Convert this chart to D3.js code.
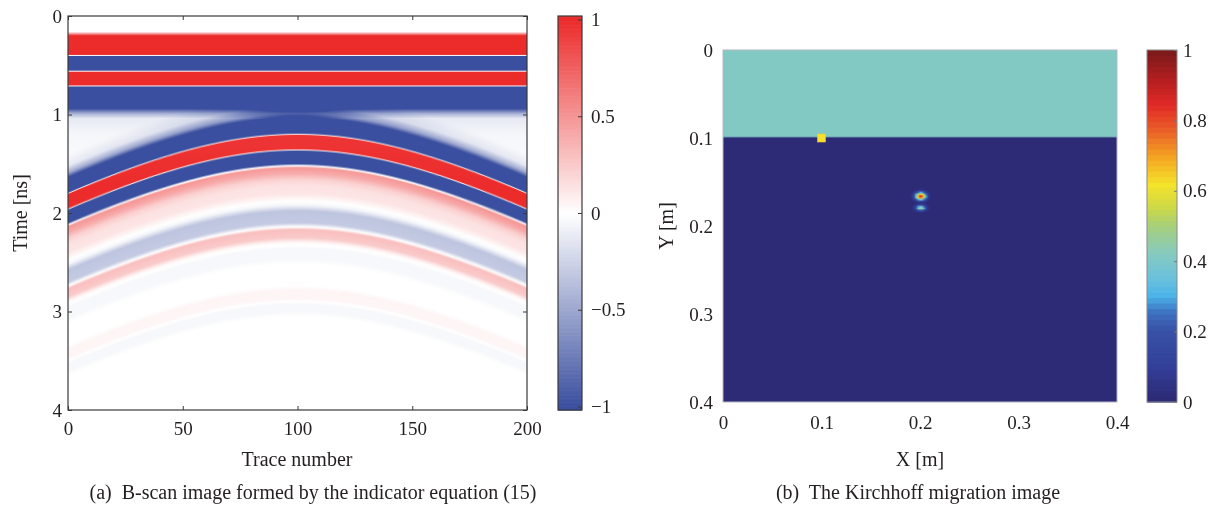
<!DOCTYPE html>
<html>
<head>
<meta charset="utf-8">
<script src="https://cdn.jsdelivr.net/npm/d3@7/dist/d3.min.js"></script>
<style>
  html, body { margin: 0; padding: 0; background: #fff; }
  #wrap { position: relative; width: 1220px; height: 512px; }
  canvas, svg { position: absolute; left: 0; top: 0; }
  text { font-family: "Liberation Serif", "DejaVu Serif", serif; fill: #231f20; }
</style>
</head>
<body>
<div id="wrap">
  <canvas id="cv" width="1220" height="512"></canvas>
  <svg id="sv" width="1220" height="512"></svg>
</div>
<script>
// ---------------- (a) B-scan data ----------------
const traceTicks = [0, 50, 100, 150, 200];
const timeTicks = [0, 1, 2, 3, 4];
const bscanBarTicks = [-1, -0.5, 0, 0.5, 1];
const bscanBarLabels = ["\u22121", "\u22120.5", "0", "0.5", "1"];

// Direct (air/ground) wave, identical on every trace: [time ns, amplitude]
const directWave = [
  [0.00, 0], [0.16, 0], [0.20, 1], [0.39, 1], [0.40, 0], [0.41, -1],
  [0.55, -1], [0.56, 0], [0.57, 1], [0.70, 1], [0.71, 0], [0.72, -1],
  [0.94, -1], [0.99, -0.45], [1.04, -0.12], [1.20, -0.05], [1.50, -0.02], [1.80, 0]
];

// Target reflection as seen on the apex trace: [time ns, amplitude]
const reflectionWave = [
  [0.80, 0], [0.92, -0.1], [0.99, -0.45], [1.04, -1],
  [1.19, -1], [1.20, 0], [1.21, 1], [1.35, 1], [1.36, 0], [1.37, -1],
  [1.50, -1], [1.52, 0], [1.54, 0.5], [1.60, 0.4], [1.66, 0.22], [1.72, 0.14],
  [1.80, 0.12], [1.86, 0.03], [1.92, -0.05], [1.98, -0.33], [2.10, -0.3], [2.14, 0],
  [2.17, 0.3], [2.25, 0.25], [2.30, 0.03], [2.36, -0.04], [2.46, -0.04], [2.52, 0],
  [2.74, 0], [2.79, 0.05], [2.87, 0.04], [2.90, 0], [2.93, -0.04], [3.00, -0.04], [3.05, 0]
];

// Hyperbolic moveout: arrival of the main lobe at the apex trace and at the outer traces
const apexTrace = 100;
const apexTime = 1.21;
const edgeTrace = 0;
const edgeTime = 1.81;

const traces = d3.range(0, 201);
const times = d3.range(0, 401).map(i => i / 100);

// ---------------- (b) Kirchhoff migration data ----------------
const posTicks = [0, 0.1, 0.2, 0.3, 0.4];
const posLabels = ["0", "0.1", "0.2", "0.3", "0.4"];
const migBarTicks = [0, 0.2, 0.4, 0.6, 0.8, 1];
const migBarLabels = ["0", "0.2", "0.4", "0.6", "0.8", "1"];

const gridX = d3.range(0, 201).map(i => i * 0.002);
const gridY = d3.range(0, 201).map(i => i * 0.002);

// Layer above the interface and its image level
const layerTop = [0, 0.1];
const layerValue = 0.42;
// Focused target energy: centre, peak level, spread (m)
const spotX = [0.2007, 0.2007];
const spotY = [0.1662, 0.1795];
const spotPeak = [0.9, 0.5];
const spotSx = [0.0037, 0.0034];
const spotSy = [0.0029, 0.0021];
// Antenna position
const antenna = [0.1, 0.1];

// Colour maps
const migStops = [0, 0.1, 0.2, 0.25, 0.3, 0.35, 0.42, 0.5, 0.55, 0.62, 0.7, 0.78, 0.85, 0.92, 1];
const migColors = ["#2d2a76", "#33409a", "#3752a6", "#3d70c0", "#4cb4e8", "#6ac1dc", "#85cac1",
  "#a6cf7c", "#cbd84a", "#f4e32a", "#f4a422", "#ea5c28", "#e12a26", "#b51f22", "#7e1a1a"];
const bscanColors = ["#3a4f9f", "#ffffff", "#ec2b2b"];

// ---------------- layout ----------------
const PA = { left: 68, right: 527, top: 16, bottom: 410 };
const CA = { left: 558, right: 582, top: 16, bottom: 410 };
const PB = { left: 723, right: 1117, top: 50, bottom: 402 };
const CB = { left: 1147, right: 1177, top: 50, bottom: 402 };

const ctx = document.getElementById("cv").getContext("2d");
const svg = d3.select("#sv");

// ---------------- (a) image ----------------
const xA = d3.scaleLinear().domain([0, 200]).range([PA.left, PA.right]);
const yA = d3.scaleLinear().domain([0, 4]).range([PA.top, PA.bottom]);
const directAmp = d3.scaleLinear().domain(directWave.map(d => d[0])).range(directWave.map(d => d[1])).clamp(true);
const reflAmp = d3.scaleLinear().domain(reflectionWave.map(d => d[0])).range(reflectionWave.map(d => d[1])).clamp(true);
const colorA = d3.scaleLinear().domain([-1, 0, 1]).range(bscanColors).clamp(true);

const slope2 = (edgeTime * edgeTime - apexTime * apexTime) / Math.pow(edgeTrace - apexTrace, 2);
const moveout = tr => Math.sqrt(apexTime * apexTime + slope2 * (tr - apexTrace) * (tr - apexTrace)) - apexTime;

function drawGrid(nx, ny, valueAt, colorOf, rect, smooth) {
  const off = document.createElement("canvas");
  off.width = nx; off.height = ny;
  const octx = off.getContext("2d");
  const img = octx.createImageData(nx, ny);
  for (let j = 0; j < ny; j++) {
    for (let i = 0; i < nx; i++) {
      const c = d3.rgb(colorOf(valueAt(i, j)));
      const k = (j * nx + i) * 4;
      img.data[k] = c.r; img.data[k + 1] = c.g; img.data[k + 2] = c.b; img.data[k + 3] = 255;
    }
  }
  octx.putImageData(img, 0, 0);
  ctx.save();
  ctx.beginPath();
  ctx.rect(rect.clip[0], rect.clip[1], rect.clip[2], rect.clip[3]);
  ctx.clip();
  ctx.imageSmoothingEnabled = smooth;
  ctx.drawImage(off, rect.x, rect.y, rect.w, rect.h);
  ctx.restore();
}

drawGrid(traces.length, times.length,
  (i, j) => {
    const tr = traces[i], t = times[j];
    const v = directAmp(t) + reflAmp(t - moveout(tr));
    return Math.max(-1, Math.min(1, v));
  },
  colorA,
  {
    x: xA(-0.5), y: yA(-0.005), w: xA(200.5) - xA(-0.5), h: yA(4.005) - yA(-0.005),
    clip: [PA.left, PA.top, PA.right - PA.left, PA.bottom - PA.top]
  }, true);

// colour bar (a)
const cA = d3.scaleLinear().domain([-1.018, 1.018]).range([CA.bottom, CA.top]);
const nA = 300;
for (let k = 0; k < nA; k++) {
  const v0 = -1.018 + 2.036 * k / nA, v1 = -1.018 + 2.036 * (k + 1) / nA;
  ctx.fillStyle = colorA((v0 + v1) / 2);
  ctx.fillRect(CA.left, cA(v1), CA.right - CA.left, cA(v0) - cA(v1) + 0.6);
}

// ---------------- (b) image ----------------
const xB = d3.scaleLinear().domain([0, 0.4]).range([PB.left, PB.right]);
const yB = d3.scaleLinear().domain([0, 0.4]).range([PB.top, PB.bottom]);
const migColor = d3.scaleLinear().domain(migStops).range(migColors).clamp(true);
const migQuant = v => migColor(Math.round(Math.max(0, Math.min(1, v)) * 63) / 63);

drawGrid(gridX.length, gridY.length,
  (i, j) => {
    const X = gridX[i], Y = gridY[j];
    let v = (Y >= layerTop[0] && Y < layerTop[1]) ? layerValue : 0;
    for (let s = 0; s < spotX.length; s++) {
      const dx = (X - spotX[s]) / spotSx[s], dy = (Y - spotY[s]) / spotSy[s];
      v += spotPeak[s] * Math.exp(-0.5 * (dx * dx + dy * dy));
    }
    return v;
  },
  migQuant,
  {
    x: xB(-0.001), y: yB(-0.001), w: xB(0.401) - xB(-0.001), h: yB(0.401) - yB(-0.001),
    clip: [PB.left, PB.top, PB.right - PB.left, PB.bottom - PB.top]
  }, true);

// colour bar (b), 64 discrete levels
const cB = d3.scaleLinear().domain([0, 1]).range([CB.bottom, CB.top]);
for (let k = 0; k < 64; k++) {
  const v0 = k / 64, v1 = (k + 1) / 64;
  ctx.fillStyle = migColor(k / 63);
  ctx.fillRect(CB.left, cB(v1), CB.right - CB.left, cB(v0) - cB(v1) + 0.6);
}

// ---------------- axes ----------------
function styleAxis(g, size) {
  g.attr("font-family", '"Liberation Serif", "DejaVu Serif", serif')
   .attr("font-size", size).attr("color", "#231f20");
  g.select(".domain").remove();
  g.selectAll(".tick line").attr("stroke", "#3a3a3a");
}

// (a) frame with inward ticks on all sides
const gA = svg.append("g");
gA.append("g").attr("transform", `translate(0,${PA.bottom})`)
  .call(d3.axisBottom(xA).tickValues(traceTicks).tickSize(-4).tickPadding(12).tickFormat(d3.format("d")))
  .call(g => styleAxis(g, 19));
gA.append("g").attr("transform", `translate(0,${PA.top})`)
  .call(d3.axisTop(xA).tickValues(traceTicks).tickSize(-4).tickFormat(""))
  .call(g => styleAxis(g, 19));
gA.append("g").attr("transform", `translate(${PA.left},0)`)
  .call(d3.axisLeft(yA).tickValues(timeTicks).tickSize(-4).tickPadding(6).tickFormat(d3.format("d")))
  .call(g => styleAxis(g, 19));
gA.append("g").attr("transform", `translate(${PA.right},0)`)
  .call(d3.axisRight(yA).tickValues(timeTicks).tickSize(-4).tickFormat(""))
  .call(g => styleAxis(g, 19));
gA.append("rect").attr("x", PA.left).attr("y", PA.top)
  .attr("width", PA.right - PA.left).attr("height", PA.bottom - PA.top)
  .attr("fill", "none").attr("stroke", "#3a3a3a").attr("stroke-width", 1.2);

gA.append("g").attr("transform", `translate(${CA.right},0)`)
  .call(d3.axisRight(cA).tickValues(bscanBarTicks).tickSize(-4).tickPadding(9)
    .tickFormat((d, i) => bscanBarLabels[i]))
  .call(g => styleAxis(g, 19));
gA.append("rect").attr("x", CA.left).attr("y", CA.top)
  .attr("width", CA.right - CA.left).attr("height", CA.bottom - CA.top)
  .attr("fill", "none").attr("stroke", "#3a3a3a").attr("stroke-width", 1.2);

gA.append("text").attr("transform", "translate(27,213) rotate(-90)")
  .attr("text-anchor", "middle").attr("font-size", 20).text("Time [ns]");
gA.append("text").attr("x", 297).attr("y", 466)
  .attr("text-anchor", "middle").attr("font-size", 20).text("Trace number");
gA.append("text").attr("x", 313).attr("y", 499)
  .attr("text-anchor", "middle").attr("font-size", 20)
  .attr("xml:space", "preserve").text("(a)  B-scan image formed by the indicator equation (15)");

// (b) axes without tick marks
const gB = svg.append("g");
gB.append("g").attr("transform", `translate(0,${PB.bottom})`)
  .call(d3.axisBottom(xB).tickValues(posTicks).tickSize(0).tickPadding(14)
    .tickFormat((d, i) => posLabels[i]))
  .call(g => styleAxis(g, 19));
gB.append("g").attr("transform", `translate(${PB.left},0)`)
  .call(d3.axisLeft(yB).tickValues(posTicks).tickSize(0).tickPadding(10)
    .tickFormat((d, i) => posLabels[i]))
  .call(g => styleAxis(g, 19));
gB.append("rect").attr("x", PB.left).attr("y", PB.top)
  .attr("width", PB.right - PB.left).attr("height", PB.bottom - PB.top)
  .attr("fill", "none").attr("stroke", "#b4b8c4").attr("stroke-width", 1);

// antenna marker
gB.append("rect")
  .attr("x", xB(antenna[0]) - 4).attr("y", yB(antenna[1]) - 4)
  .attr("width", 8).attr("height", 8)
  .attr("fill", "#f4e12e").attr("stroke", "#e8cf2a").attr("stroke-width", 0.6);

gB.append("g").attr("transform", `translate(${CB.right},0)`)
  .call(d3.axisRight(cB).tickValues(migBarTicks).tickSize(-3).tickPadding(6)
    .tickFormat((d, i) => migBarLabels[i]))
  .call(g => styleAxis(g, 19));
gB.selectAll(".tick line").attr("stroke", "#777");
gB.append("rect").attr("x", CB.left).attr("y", CB.top)
  .attr("width", CB.right - CB.left).attr("height", CB.bottom - CB.top)
  .attr("fill", "none").attr("stroke", "#8a8a8a").attr("stroke-width", 1);

gB.append("text").attr("transform", "translate(673,226) rotate(-90)")
  .attr("text-anchor", "middle").attr("font-size", 20).text("Y [m]");
gB.append("text").attr("x", 920).attr("y", 466)
  .attr("text-anchor", "middle").attr("font-size", 20).text("X [m]");
gB.append("text").attr("x", 918).attr("y", 499)
  .attr("text-anchor", "middle").attr("font-size", 20)
  .attr("xml:space", "preserve").text("(b)  The Kirchhoff migration image");
</script>
</body>
</html>
